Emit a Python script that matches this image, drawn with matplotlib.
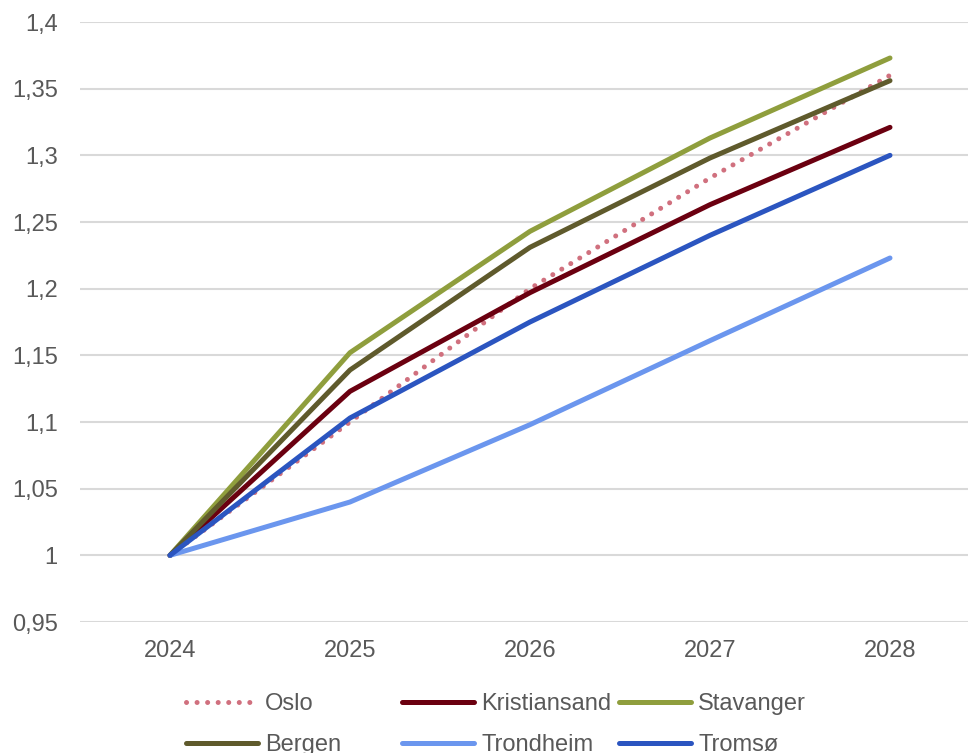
import numpy as np
import matplotlib
matplotlib.use("Agg")
import matplotlib.pyplot as plt

# Données
annees = ["2024", "2025", "2026", "2027", "2028"]
oslo = [1.0, 1.100, 1.200, 1.283, 1.360]
kristiansand = [1.0, 1.123, 1.197, 1.263, 1.321]
stavanger = [1.0, 1.152, 1.243, 1.313, 1.373]
bergen = [1.0, 1.139, 1.231, 1.298, 1.356]
trondheim = [1.0, 1.040, 1.098, 1.161, 1.223]
tromso = [1.0, 1.103, 1.175, 1.240, 1.300]
yticks = [0.95, 1.0, 1.05, 1.1, 1.15, 1.2, 1.25, 1.3, 1.35, 1.4]

plt.rcParams['font.family'] = ['Liberation Sans', 'DejaVu Sans']
gris = '#595959'

fig = plt.figure(figsize=(9.68, 7.53), dpi=100)
ax = fig.add_axes([80 / 968, 1 - 622 / 753, 888 / 968, 600 / 753])

x = np.arange(len(annees))
lw = 3.6
l_oslo, = ax.plot(x, oslo, color='#d0707e', lw=lw, linestyle=(0, (0.01, 2.1)),
                  dash_capstyle='round', label='Oslo', zorder=3)
l_kri, = ax.plot(x, kristiansand, color='#6b0010', lw=lw, solid_capstyle='round',
                 label='Kristiansand', zorder=3)
l_sta, = ax.plot(x, stavanger, color='#8f9e3d', lw=lw, solid_capstyle='round',
                 label='Stavanger', zorder=3)
l_ber, = ax.plot(x, bergen, color='#5f5a2c', lw=lw, solid_capstyle='round',
                 label='Bergen', zorder=3)
l_tro, = ax.plot(x, trondheim, color='#6b96ee', lw=lw, solid_capstyle='round',
                 label='Trondheim', zorder=3)
l_tms, = ax.plot(x, tromso, color='#2b55c0', lw=lw, solid_capstyle='round',
                 label='Tromsø', zorder=3)

ax.set_xlim(-0.5, -0.5 + 888 / 180)
ax.set_ylim(0.95, 1.4)
ax.set_xticks(x)
ax.set_xticklabels(annees)
ax.set_yticks(yticks)
ax.set_yticklabels([f"{v:g}".replace('.', ',') for v in yticks])
ax.tick_params(axis='both', length=0, labelsize=17, labelcolor=gris)
ax.tick_params(axis='y', pad=16)
ax.tick_params(axis='x', pad=13)
ax.grid(axis='y', color='#d9d9d9', lw=1.5)
ax.set_axisbelow(True)
for s in ax.spines.values():
    s.set_visible(False)

# Légende en trois colonnes
colonnes = [([l_oslo, l_ber], 186), ([l_kri, l_tro], 402), ([l_sta, l_tms], 619)]
for handles, px in colonnes:
    leg = fig.legend(handles=handles, loc='upper left',
                     bbox_to_anchor=(px / 968, 1 - 693 / 753),
                     frameon=False, fontsize=17, borderpad=0, borderaxespad=0,
                     handlelength=3.05, handletextpad=0.3, labelspacing=0.8)
    for t in leg.get_texts():
        t.set_color(gris)

plt.savefig('out.png', dpi=100)
